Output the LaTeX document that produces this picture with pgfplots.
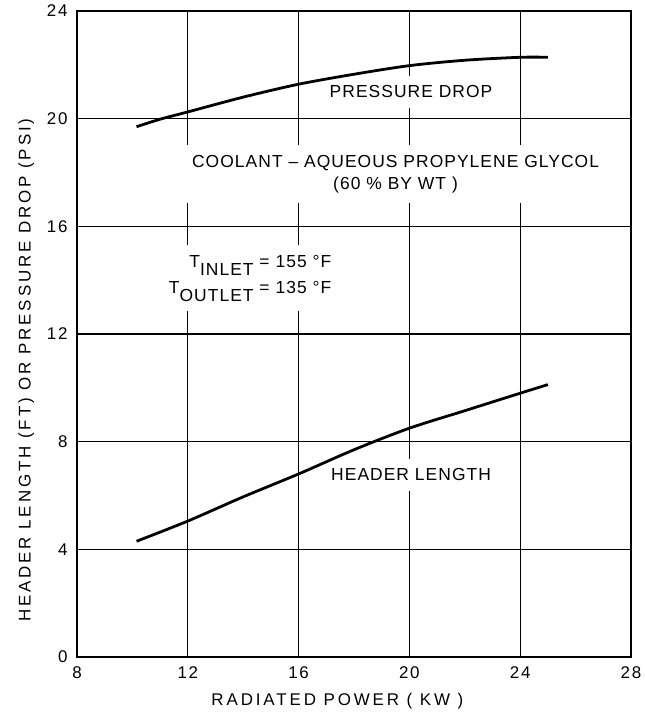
\documentclass[border=0pt]{standalone}
\usepackage{fontspec}
\setmainfont{Liberation Sans}[LetterSpace=6]
\newfontfamily\lblfont{Liberation Sans}[LetterSpace=17]
\newfontfamily\tickfont{Liberation Sans}[LetterSpace=10]
\usepackage{pgfplots}
\pgfplotsset{compat=1.18}
\usetikzlibrary{calc}

\newcommand\notefont{\fontsize{17.5}{22}\selectfont}
\tikzset{note/.style={fill=white, inner xsep=6bp, inner ysep=10bp, font=\notefont}}

% Pressure drop (psi) and header length (ft) against radiated power (kW)
\pgfplotstableread{
x     p
10.15 19.70
11.0  19.98
12.0  20.25
14.0  20.80
16.0  21.28
18.0  21.65
20.0  21.97
22.0  22.17
24.0  22.28
25.0  22.28
}\pressure
\pgfplotstableread{
x     h
10.15 4.30
12.0  5.05
14.0  5.95
16.0  6.80
18.0  7.70
20.0  8.50
22.0  9.15
24.0  9.80
25.0  10.12
}\header

\begin{document}
\begin{tikzpicture}
\begin{axis}[
  name=ax,
  scale only axis,
  width=554bp, height=646bp,
  xmin=8, xmax=28, ymin=0, ymax=24,
  xtick={8,12,...,28}, ytick={0,4,...,24},
  grid=major,
  major grid style={black, line width=1.3pt},
  axis line style={black, line width=1.6pt},
  major tick length=0pt,
  tick label style={font=\tickfont\fontsize{17}{18}\selectfont},
  /pgf/number format/assume math mode=true,
  xticklabel style={yshift=-6bp},
  yticklabel style={xshift=-6bp},
  xlabel={RADIATED POWER ( KW )},
  ylabel={HEADER LENGTH (FT) OR PRESSURE DROP (PSI)},
  label style={font=\lblfont\fontsize{17}{20}\selectfont},
  xlabel style={at={(ticklabel cs:0.47)}, yshift=-8bp},
  ylabel style={at={(ticklabel cs:0.444)}, yshift=6bp},
]
% white-backed notes first, so the curves stay on top of them
\node[note] at (axis cs:20.06,21.0) {PRESSURE DROP};
\node[note, align=center] at (axis cs:19.5,17.95)
  {COOLANT -- AQUEOUS PROPYLENE GLYCOL\\(60 \% BY WT )};
\node[note, align=right] at (axis cs:14.25,14.07)
  {T\raisebox{-0.85ex}{INLET} = 155 °F\\[4pt]T\raisebox{-0.85ex}{OUTLET} = 135 °F};
\node[note] at (axis cs:20.06,6.77) {HEADER LENGTH};

\addplot[black, line width=2.8pt, smooth] table[x=x, y=p] {\pressure};
\addplot[black, line width=2.8pt, smooth] table[x=x, y=h] {\header};
\end{axis}
\useasboundingbox ($(ax.south west)+(-77bp,-59bp)$) rectangle ($(ax.north east)+(14bp,11bp)$);
\end{tikzpicture}
\end{document}
